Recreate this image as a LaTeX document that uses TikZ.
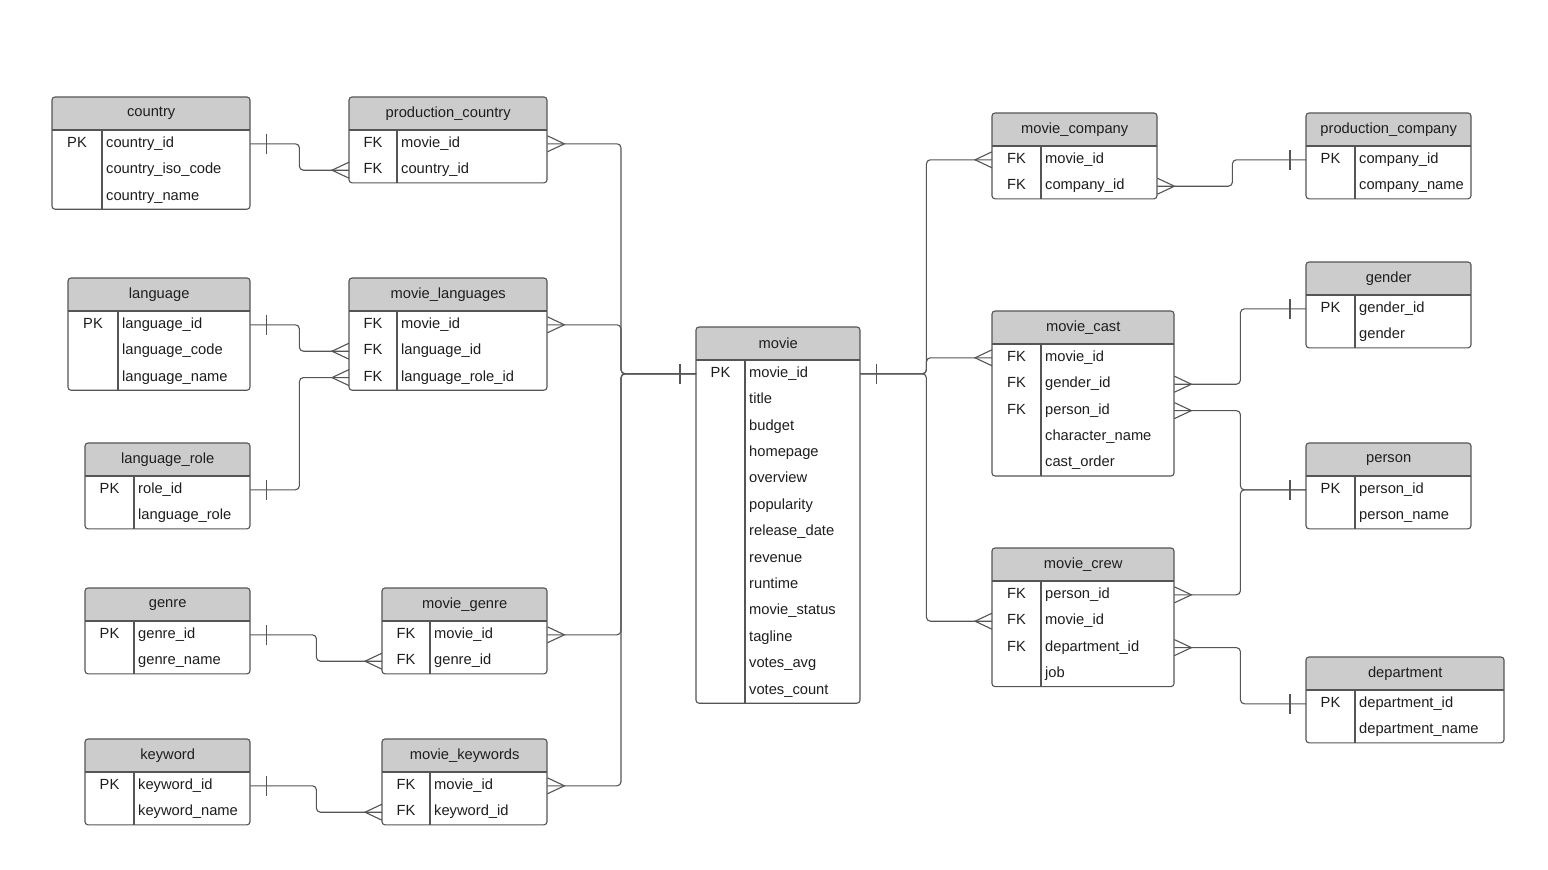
\documentclass[tikz,border=0pt]{standalone}
\usepackage{fontspec}
\setmainfont{Liberation Sans}
\usetikzlibrary{calc}

\definecolor{hdrgray}{RGB}{204,204,204}
\definecolor{edge}{RGB}{85,85,85}
\definecolor{txt}{RGB}{30,30,30}

% table: name, x, y, width, key column width, rows, title, key/field list
\newcommand{\ertable}[8]{%
  \pgfmathsetmacro{\tb}{#3+33+26.4*#6}
  \begin{scope}
    \clip[rounded corners=3pt] (#2,#3) rectangle ({#2+#4},\tb);
    \fill[hdrgray] (#2,#3) rectangle ({#2+#4},{#3+33});
  \end{scope}
  \draw[tline, rounded corners=3pt] (#2,#3) rectangle ({#2+#4},\tb);
  \draw[tline] (#2,{#3+33}) -- ({#2+#4},{#3+33});
  \draw[tline] ({#2+#5},{#3+33}) -- ({#2+#5},\tb);
  \node[thead, minimum width=#4pt, anchor=north west] (#1) at (#2,#3) {#7};
  \foreach \k/\f [count=\i] in {#8} {
    \node[trow, minimum width=#4pt, anchor=north west] (#1-\i) at ($(#1.south west)+(0,{26.4*(\i-1)})$) {};
    \node[tkey] at ($(#1-\i.west)+(#5/2,3.5)$) {\k};
    \node[tfield] at ($(#1-\i.west)+(#5+4,3.5)$) {\f};
  }
}
% one / many ends
\newcommand{\erone}[2]{\draw[conn] ($(#1)+(#2*16,-10)$) -- ++(0,20);}
\newcommand{\ermany}[2]{\draw[conn, rounded corners=0pt] ($(#1)+(0,-8)$) -- ($(#1)+(#2*17,0)$) -- ($(#1)+(0,8)$);}

\begin{document}
\begin{tikzpicture}[x=1pt, y=-1pt,
    every node/.style={font=\fontsize{14.7}{17}\selectfont, text=txt},
    thead/.style={minimum height=33pt, inner sep=0pt},
    trow/.style={minimum height=26.4pt, inner sep=0pt},
    tkey/.style={anchor=base, inner sep=0pt},
    tfield/.style={anchor=base west, inner sep=0pt},
    tline/.style={draw=edge, line width=1.1pt},
    conn/.style={draw=edge, line width=1.1pt, rounded corners=4pt}]
    \fill[white] (0,0) rectangle (1548,870);
    \useasboundingbox (0,0) rectangle (1548,870);

    % left side
    \ertable{country}{52}{97}{198}{50}{3}{country}{PK/country\_id, /country\_iso\_code, /country\_name}
    \ertable{pcountry}{349}{97}{198}{48}{2}{production\_country}{FK/movie\_id, FK/country\_id}
    \ertable{language}{68}{278}{182}{50}{3}{language}{PK/language\_id, /language\_code, /language\_name}
    \ertable{mlang}{349}{278}{198}{48}{3}{movie\_languages}{FK/movie\_id, FK/language\_id, FK/language\_role\_id}
    \ertable{lrole}{85}{443}{165}{49}{2}{language\_role}{PK/role\_id, /language\_role}
    \ertable{genre}{85}{588}{165}{49}{2}{genre}{PK/genre\_id, /genre\_name}
    \ertable{mgenre}{382}{588}{165}{48}{2}{movie\_genre}{FK/movie\_id, FK/genre\_id}
    \ertable{keyword}{85}{739}{165}{49}{2}{keyword}{PK/keyword\_id, /keyword\_name}
    \ertable{mkeyword}{382}{739}{165}{48}{2}{movie\_keywords}{FK/movie\_id, FK/keyword\_id}

    % centre
    \ertable{movie}{696}{327}{164}{49}{13}{movie}{PK/movie\_id, /title, /budget, /homepage, /overview, /popularity, /release\_date, /revenue, /runtime, /movie\_status, /tagline, /votes\_avg, /votes\_count}

    % right side
    \ertable{mcompany}{992}{113}{165}{49}{2}{movie\_company}{FK/movie\_id, FK/company\_id}
    \ertable{pcompany}{1306}{113}{165}{49}{2}{production\_company}{PK/company\_id, /company\_name}
    \ertable{gender}{1306}{262}{165}{49}{2}{gender}{PK/gender\_id, /gender}
    \ertable{mcast}{992}{311}{182}{49}{5}{movie\_cast}{FK/movie\_id, FK/gender\_id, FK/person\_id, /character\_name, /cast\_order}
    \ertable{person}{1306}{443}{165}{49}{2}{person}{PK/person\_id, /person\_name}
    \ertable{mcrew}{992}{548}{182}{49}{4}{movie\_crew}{FK/person\_id, FK/movie\_id, FK/department\_id, /job}
    \ertable{department}{1306}{657}{198}{49}{2}{department}{PK/department\_id, /department\_name}

    % relations
    \draw[conn] (country-1.east) -- ++(49,0) |- (pcountry-2.west);
    \draw[conn] (language-1.east) -- ++(49,0) |- (mlang-2.west);
    \draw[conn] (lrole-1.east) -- ++(49,0) |- (mlang-3.west);
    \draw[conn] (genre-1.east) -- ++(66,0) |- (mgenre-2.west);
    \draw[conn] (keyword-1.east) -- ++(66,0) |- (mkeyword-2.west);
    \foreach \t in {pcountry, mlang, mgenre, mkeyword}
        {\draw[conn] (movie-1.west) -- ++(-75,0) |- (\t-1.east);}
    \foreach \t/\r in {mcompany/1, mcast/1, mcrew/2}
        {\draw[conn] (movie-1.east) -- ++(66,0) |- (\t-\r.west);}
    \draw[conn] (mcompany-2.east) -- ++(75,0) |- (pcompany-1.west);
    \draw[conn] (mcast-2.east) -- ++(66,0) |- (gender-1.west);
    \draw[conn] (mcast-3.east) -- ++(66,0) |- (person-1.west);
    \draw[conn] (mcrew-1.east) -- ++(66,0) |- (person-1.west);
    \draw[conn] (mcrew-3.east) -- ++(66,0) |- (department-1.west);

    \foreach \a/\s in {country-1.east/1, language-1.east/1, lrole-1.east/1, genre-1.east/1,
        keyword-1.east/1, movie-1.west/-1, movie-1.east/1, pcompany-1.west/-1,
        gender-1.west/-1, person-1.west/-1, department-1.west/-1}
        {\erone{\a}{\s}}
    \foreach \a/\s in {pcountry-2.west/-1, pcountry-1.east/1, mlang-1.east/1, mlang-2.west/-1,
        mlang-3.west/-1, mgenre-1.east/1, mgenre-2.west/-1, mkeyword-1.east/1,
        mkeyword-2.west/-1, mcompany-1.west/-1, mcompany-2.east/1, mcast-1.west/-1,
        mcast-2.east/1, mcast-3.east/1, mcrew-2.west/-1, mcrew-1.east/1, mcrew-3.east/1}
        {\ermany{\a}{\s}}
\end{tikzpicture}
\end{document}
